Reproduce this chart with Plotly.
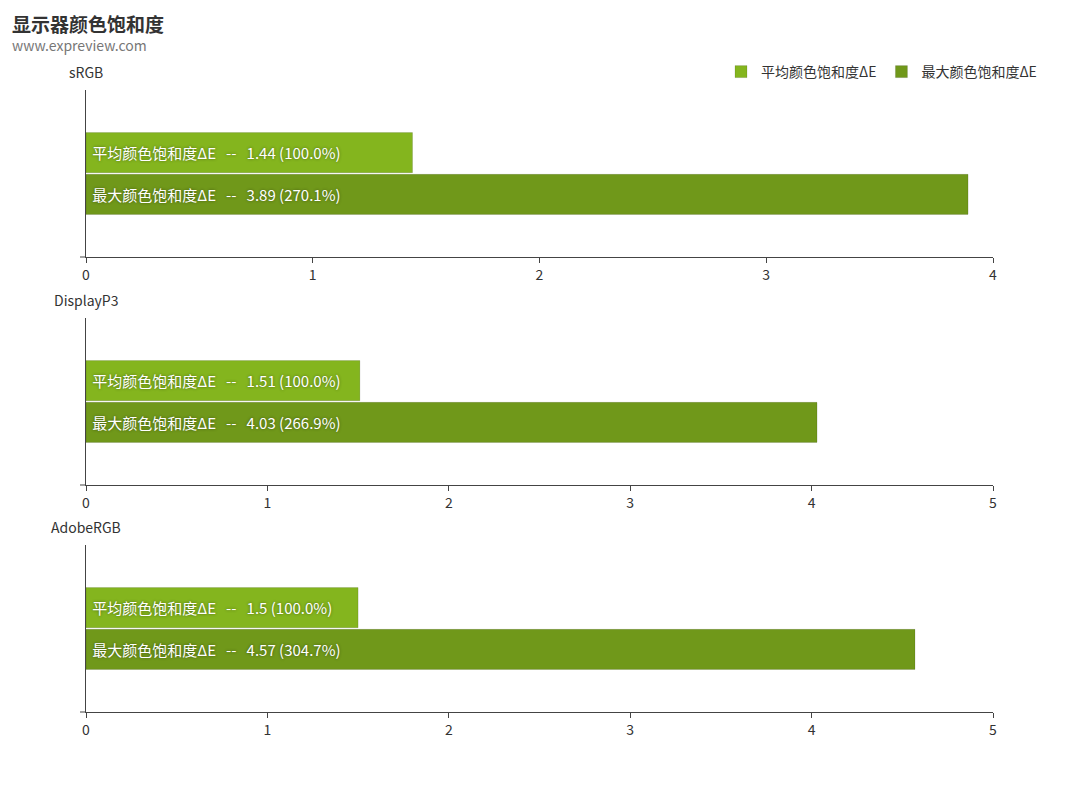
import plotly.graph_objects as go
from plotly.subplots import make_subplots

# data
gamuts = ["sRGB", "DisplayP3", "AdobeRGB"]
avg_de = [1.44, 1.51, 1.5]
max_de = [3.89, 4.03, 4.57]
x_max = [4, 5, 5]
avg_name = "平均颜色饱和度ΔE"
max_name = "最大颜色饱和度ΔE"

avg_color = "#84b51e"
max_color = "#70981a"
cjk = "Noto Sans CJK SC"

# page body adds 8px, so the figure is drawn 8px smaller and shifted
OFF = 8
W, H = 1080 - OFF, 787 - OFF
L, R = 86 - OFF, 993 - OFF
PW = R - L

# screen pixel boxes of the three panels (top, bottom)
boxes = [(90, 257), (318, 485), (545, 712)]

fig = make_subplots(rows=3, cols=1)

sp = "\u00a0"


def label(name, v, base):
    return f"{sp}{name}{sp * 3}--{sp * 3}{v} ({v / base * 100:.1f}%)"


for i, g in enumerate(gamuts):
    row = i + 1
    # max first so it lands below the avg bar
    for name, vals, col in [(max_name, max_de, max_color), (avg_name, avg_de, avg_color)]:
        fig.add_trace(go.Bar(
            y=[g], x=[vals[i]], orientation="h", name=name,
            marker=dict(color=col, line=dict(color="rgba(0,0,0,0.12)", width=1)),
            text=[label(name, vals[i], avg_de[i])],
            textposition="inside", insidetextanchor="start", textangle=0,
            insidetextfont=dict(family=cjk, size=15, color="white",
                                shadow="0px 0px 3px rgba(0,0,0,0.45)"),
            showlegend=(i == 0), legendgroup=name, hoverinfo="skip",
        ), row=row, col=1)

    top, bot = boxes[i]
    top, bot = top - OFF, bot - OFF
    ax = "" if row == 1 else str(row)
    fig.layout["yaxis" + ax].update(
        domain=[1 - bot / H, 1 - top / H], showticklabels=False, ticks="",
        showline=True, linecolor="#444", linewidth=1, showgrid=False,
        zeroline=False, range=[-0.5, 0.5], fixedrange=True,
    )
    fig.layout["xaxis" + ax].update(
        range=[0, x_max[i]], dtick=1, ticks="outside", ticklen=5,
        tickcolor="#444", showline=True, linecolor="#444", linewidth=1,
        showgrid=False, zeroline=False,
        tickfont=dict(family=cjk, size=14, color="#333"),
    )
    # axis name above the y axis
    fig.add_annotation(text=g, x=0, xref="paper", xanchor="center",
                       y=1, yref=f"y{ax} domain", yanchor="bottom", yshift=6,
                       showarrow=False, font=dict(family=cjk, size=14, color="#333"))
    # small stub of the x axis line left of zero
    fig.add_shape(type="line", xref="paper", x0=-6 / PW, x1=0,
                  yref=f"y{ax} domain", y0=0, y1=0,
                  line=dict(color="#444", width=1))

fig.add_annotation(text="<b>显示器颜色饱和度</b>", xref="paper", yref="paper",
                   x=(2 - L) / PW, y=1, xanchor="left", yanchor="top",
                   showarrow=False, font=dict(family=cjk, size=19, color="#333"))
fig.add_annotation(text="www.expreview.com", xref="paper", yref="paper",
                   x=(2 - L) / PW, y=1 - (45 - OFF) / H, xanchor="left", yanchor="middle",
                   showarrow=False, font=dict(family=cjk, size=14, color="#777"))

fig.update_layout(
    width=W, height=H,
    margin=dict(l=L, r=W - R, t=0, b=0, autoexpand=False),
    plot_bgcolor="white", paper_bgcolor="white",
    barmode="group", bargap=0.5, bargroupgap=0.04,
    uniformtext=dict(minsize=15, mode="show"),
    legend=dict(orientation="h", traceorder="reversed",
                xref="container", x=(1042 - OFF) / W, xanchor="right",
                yref="container", y=1 - (72 - OFF) / H, yanchor="middle",
                font=dict(family=cjk, size=14, color="#333"),
                itemwidth=30, tracegroupgap=0),
    showlegend=True,
)

fig.write_html("out.html")
